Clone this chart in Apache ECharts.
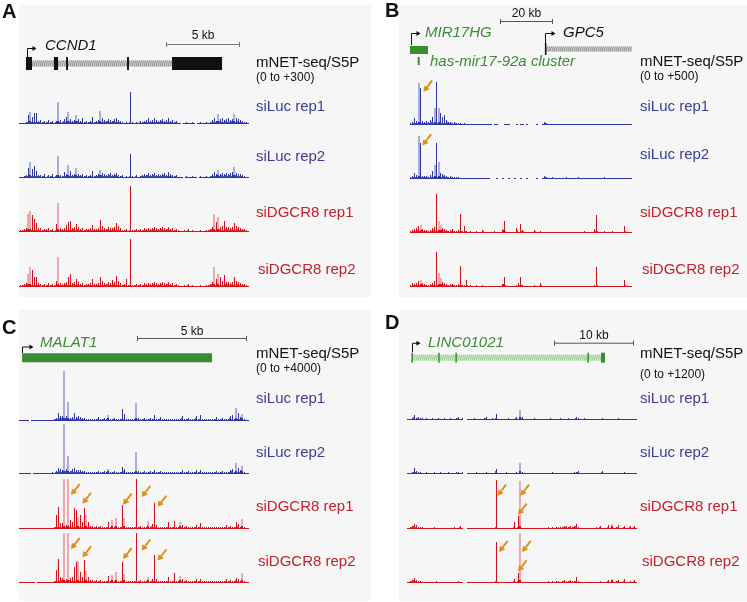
<!DOCTYPE html>
<html><head><meta charset="utf-8">
<script src="https://cdn.jsdelivr.net/npm/echarts@6.0.0/dist/echarts.min.js"></script>
<style>html,body{margin:0;padding:0;background:#fff}#c{width:747px;height:602px}</style>
</head><body><div id="c"></div>
<script>
// ---------------- DATA (signal per 2-px genomic bin) ----------------
// Panel A: CCND1, scale 0..300
const A_siLuc_rep1 = [6,6,6,12,54,72,42,66,66,18, 24,12,18,12,24,12,18,6,18,132, 24,12,30,42,72,30,18,24,54,30, 18,36,12,18,12,18,42,12,18,24, 78,36,24,18,30,24,18,30,36,24, 18,12,6,12,6,192,12,6,12,6, 18,12,18,24,36,18,24,36,24,18, 24,30,18,24,36,18,24,12,18,6, 6,0,6,12,6,6,12,6,0,6, 12,6,6,12,6,12,24,36,18,60, 30,36,24,30,36,24,30,60,36,30, 24,18,12,12,6];
const A_siLuc_rep2 = [6,6,12,18,60,96,54,72,42,18, 18,12,24,6,18,12,24,6,18,130, 18,12,36,24,78,42,18,24,60,24, 18,24,12,18,12,18,42,12,18,24, 48,30,24,18,24,30,18,24,30,18, 12,18,6,12,6,146,12,6,18,6, 12,18,24,18,30,18,24,30,18,24, 18,24,30,18,36,24,18,12,18,6, 6,6,0,12,6,6,12,6,6,0, 12,6,6,12,6,12,24,36,24,48, 24,30,24,30,24,30,36,66,30,24, 24,18,12,6,6];
const A_siDGCR8_rep1 = [12,12,18,24,108,124,104,78,54,24, 24,12,18,18,24,12,18,6,48,174, 24,18,24,42,60,66,24,30,48,30, 18,24,12,18,18,24,42,18,18,24, 72,36,24,18,30,24,24,30,54,36, 24,12,12,18,6,276,12,12,18,12, 18,12,24,18,24,18,24,30,24,18, 24,30,24,18,30,18,24,12,18,12, 6,6,12,6,18,6,12,6,6,6, 12,6,6,12,12,18,30,110,60,90, 30,36,66,30,30,24,30,54,36,30, 24,18,18,12,6];
const A_siDGCR8_rep2 = [12,12,18,24,78,120,104,60,60,24, 18,12,18,12,24,12,18,12,36,180, 24,18,24,30,60,78,24,30,48,30, 18,24,12,18,18,24,48,18,18,24, 60,36,24,18,30,24,42,30,66,36, 24,12,18,48,12,290,12,12,18,12, 18,12,24,18,24,18,24,30,24,18, 24,30,24,18,30,18,24,12,18,12, 6,6,12,6,18,6,12,6,6,6, 12,6,6,12,12,18,30,120,48,78, 60,36,72,30,30,24,30,60,36,30, 24,18,18,12,6];
const A_lightLuc = [5,19,24,28,40,99,107];
const A_lightDgcr = [4,5,19,97,99];
// Panel B: MIR17HG / GPC5, scale 0..500
const B_siLuc_rep1 = [20,30,70,40,420,370,40,30,40,30, 50,80,170,430,170,120,80,100,50,30, 30,20,30,20,20,20,10,20,10,10, 10,10,10,10,10,10,10,10,10,10, 10,0,10,10,0,0,0,10,10,10, 0,0,0,10,0,10,10,0,10,0, 0,0,0,10,0,0,10,30,20,10, 10,10,10,10,10,10,10,10,10,10, 10,10,10,10,10,10,10,10,10,10, 10,10,10,10,10,10,10,10,10,10, 10,10,10,10,10,10,10,10,10,10,10];
const B_siLuc_rep2 = [20,30,60,40,430,360,30,30,30,20, 40,80,140,360,170,60,50,40,30,20, 30,20,20,20,20,10,10,10,10,10, 10,10,10,10,10,10,10,10,10,10, 0,0,0,10,0,0,10,0,0,10, 0,0,10,0,0,10,0,0,10,0, 0,0,0,10,0,0,10,30,20,10, 10,20,10,10,10,10,10,10,20,10, 10,10,10,10,20,10,10,10,10,10, 10,10,10,10,10,10,10,20,10,10, 10,10,10,10,10,10,10,10,10,10,10];
const B_siDGCR8_rep1 = [20,30,40,50,70,80,40,30,30,20, 30,50,60,390,120,80,50,40,30,20, 30,40,20,20,30,190,20,70,20,10, 20,10,10,20,10,10,30,10,10,10, 10,10,20,10,10,10,40,120,10,10, 10,10,10,50,10,90,30,10,10,10, 10,10,30,10,10,20,10,10,10,10, 10,10,10,10,10,10,10,10,10,10, 10,10,10,10,10,10,10,20,10,10, 10,10,40,180,10,10,10,20,10,10, 10,20,10,10,10,10,10,70,10,10,10];
const B_siDGCR8_rep2 = [20,40,30,40,60,70,40,30,20,20, 30,40,60,350,140,90,50,40,30,20, 30,30,20,20,30,210,20,20,70,10, 20,10,10,20,10,10,20,10,10,10, 10,10,10,10,10,10,30,100,10,10, 10,10,10,20,40,100,20,10,10,10, 10,10,20,10,10,40,10,10,10,10, 10,10,10,10,10,10,10,10,10,10, 10,10,10,10,10,10,10,10,10,10, 10,10,20,200,10,10,10,10,10,10, 10,10,10,10,10,10,10,70,10,10,10];
const B_lightLuc = [4,12,14];
const B_lightDgcr = [5,14,15,46];
// Panel C: MALAT1, scale 0..4000
const C_siLuc_rep1 = [40,40,40,40,40,0,40,40,40,40, 80,40,80,40,80,80,80,120,240,640, 400,400,4000,400,1520,240,320,640,320,400, 320,240,240,160,160,160,160,160,160,320, 160,160,240,160,480,160,160,240,160,160, 160,960,560,160,160,160,160,160,1470,240, 160,160,240,160,160,240,160,480,160,160, 320,160,160,160,160,160,160,160,160,160, 160,400,160,160,240,160,160,160,400,160, 480,160,160,160,160,160,160,160,320,160, 160,240,160,160,160,400,480,160,1040,640, 320,560,160,80,80];
const C_siLuc_rep2 = [40,40,40,40,40,40,0,40,40,40, 40,80,40,80,80,80,120,80,240,480, 400,320,4000,400,1470,240,400,480,320,320, 320,240,240,160,160,160,160,160,160,240, 160,160,240,160,400,160,160,240,160,160, 160,560,400,160,160,160,160,160,1730,240, 160,160,240,160,160,240,160,320,160,160, 240,160,160,160,160,160,160,160,160,160, 160,280,160,160,240,160,160,160,320,160, 320,160,160,160,160,160,160,160,240,160, 160,240,160,160,160,320,400,160,880,480, 320,640,160,80,80];
const C_siDGCR8_rep1 = [40,40,80,40,40,40,80,40,40,40, 40,80,40,80,80,40,80,120,1150,1760, 480,480,4000,320,4000,720,560,1680,1520,960, 1120,560,1680,1120,560,240,240,160,240,160, 240,160,160,160,560,160,720,160,880,160, 160,1950,880,160,160,160,160,160,4000,160, 240,160,160,160,640,160,400,2080,320,160, 160,160,160,160,560,160,160,640,160,160, 560,320,160,240,160,160,160,160,320,160, 480,160,160,160,160,160,160,160,160,160, 160,160,160,320,160,240,160,160,560,400, 160,800,160,80,40];
const C_siDGCR8_rep2 = [40,40,40,80,40,40,40,40,0,40, 40,40,80,40,80,40,80,120,1040,1920, 480,400,4000,320,4000,400,480,1250,1700,1760, 900,480,1840,960,480,240,240,160,240,160, 240,160,160,160,560,160,640,160,880,160, 160,1650,720,160,160,160,160,160,4000,160, 240,160,160,160,480,160,320,2250,320,160, 160,160,160,160,480,160,160,800,160,160, 560,320,160,240,160,160,160,160,320,160, 320,160,160,160,160,160,160,160,160,160, 160,160,160,320,160,240,160,160,400,320, 160,800,160,80,40];
const C_lightLuc = [22,24,44,58,108,111];
const C_lightDgcr = [22,24,29,33,46,48,52,64,80,111];
// Panel D: LINC01021, scale 0..1200
const D_siLuc_rep1 = [24,24,48,120,48,72,48,48,24,48, 24,24,48,24,24,48,24,24,48,24, 24,48,24,24,48,72,24,48,0,0, 24,24,24,48,24,24,24,24,48,72, 24,24,48,24,144,24,24,24,24,24, 48,24,24,24,72,24,240,72,24,24, 24,24,24,48,24,24,24,24,24,24, 24,48,24,24,24,24,48,24,24,24, 48,24,24,24,72,48,24,24,48,24, 24,24,24,24,24,24,24,48,24,24, 24,24,24,24,24,48,24,24,24,24, 24,24,24,24,24];
const D_siLuc_rep2 = [24,24,48,144,72,48,48,24,24,48, 24,24,24,48,24,24,48,24,24,24, 48,24,24,24,48,48,24,48,0,0, 24,24,24,24,48,24,24,24,24,48, 24,24,24,24,120,24,24,24,24,48, 24,24,24,24,48,24,270,48,24,24, 24,24,24,24,24,24,24,24,24,24, 24,24,48,24,24,24,24,24,24,24, 24,24,24,48,48,72,24,24,24,24, 24,24,24,24,24,24,24,72,24,24, 24,24,24,24,24,24,24,24,48,24, 24,24,24,24,24];
const D_siDGCR8_rep1 = [24,48,72,120,96,48,48,48,24,24, 24,24,24,48,24,24,24,24,24,24, 24,24,24,48,24,24,72,24,0,0, 24,24,24,24,24,24,24,24,24,24, 24,24,24,24,1180,24,24,24,24,24, 24,24,24,170,24,320,1160,24,24,24, 24,24,24,24,24,24,24,24,24,24, 48,24,48,24,48,48,48,48,72,72, 48,72,48,72,120,48,24,24,24,24, 24,24,24,24,48,24,72,24,24,24, 96,24,120,24,48,96,24,24,72,24, 24,72,24,72,24];
const D_siDGCR8_rep2 = [24,48,72,120,72,48,48,24,24,24, 24,24,24,24,48,24,24,24,24,24, 24,24,24,24,24,48,24,24,0,0, 24,24,24,24,24,24,24,24,24,24, 24,24,24,24,980,24,24,24,24,24, 24,24,24,96,24,250,1200,24,24,24, 24,24,24,24,24,24,24,24,24,24, 48,24,48,24,48,48,24,48,72,48, 48,72,48,48,144,48,24,24,24,24, 24,24,24,24,24,24,48,24,24,24, 72,24,96,24,48,72,24,24,96,24, 24,48,24,72,24];
const D_lightLuc = [56];
const D_lightDgcr = [56,102];

// Arrow annotations: [bin, signal at arrow tip]
const B_arrows_rep1 = [[6.7,333]];
const B_arrows_rep2 = [[6.2,336]];
const C_arrows_rep1 = [[26,2720],[31.7,2020],[52,1950],[61.3,2560],[69.3,1780]];
const C_arrows_rep2 = [[26,2720],[31.7,2056],[52,1920],[61.3,2592],[69.3,1792]];
const D_arrows_rep1 = [[45.2,800],[56.7,800],[55.5,343]];
const D_arrows_rep2 = [[46,744],[57.5,744],[55.5,280]];

// Gene models (kb from left edge of view)
const A_exons = [[0.47,0.88],[2.36,2.64],[3.18,3.31],[7.30,7.43],[10.34,13.72]];
const A_introns = [[0.88,10.34]];
const A_tss = [0.55];
const A_scalebar = [[9.93,14.93]];
const B_mir17hg = [[0.0,6.8]];
const B_cluster = [[2.9,3.6]];
const B_gpc5_exon = [[50.9,51.3]];
const B_gpc5_intron = [[51.3,83.77]];
const B_tss_mir = [0.4];
const B_tss_gpc5 = [50.9];
const B_scalebar = [[34.0,54.0]];
const C_malat1 = [[0.14,8.77]];
const C_tss = [0.14];
const C_scalebar = [[5.36,10.36]];
const D_exons = [[0.55,0.75],[3.9,4.05],[6.05,6.2],[22.55,22.7],[24.25,24.75]];
const D_introns = [[0.625,24.5]];
const D_tss = [0.625];
const D_scalebar = [[18.375,28.375]];

const TRACK_NAMES = ['siLuc rep1','siLuc rep2','siDGCR8 rep1','siDGCR8 rep2'];

// ---------------- RENDERING ----------------
const FONT = '"Liberation Sans", Arial, sans-serif';
const BLUE_D = '#2b36a3', BLUE_M = '#5860b4', BLUE_L = '#a9add9', BLUE_T = '#3a3d96';
const RED_D = '#d0121b', RED_M = '#d9474e', RED_L = '#eda9ac', RED_T = '#c4212a';
const GREEN = '#3b8c33', GREEN_L = '#93c98a', ORANGE = '#e08d1e';

const panels = [
  {id:'A', bg:[19,5,352,292], letter:[2,12], left:19, n:115, max:300, span:15.54, scaleTxt:'(0 to +300)',
   base:[124,178,232,287], labX:[256,256,256,258], labY:[107.3,157.3,213,270], mnetY:[63,77.3],
   tracks:[A_siLuc_rep1,A_siLuc_rep2,A_siDGCR8_rep1,A_siDGCR8_rep2], light:[A_lightLuc,A_lightDgcr], arrows:[null,null,null,null]},
  {id:'B', bg:[399,5,348,292], letter:[385,11], left:410, n:111, max:500, span:83.77, scaleTxt:'(0 to +500)',
   base:[125,179,233,287], labX:[640,640,640,642], labY:[107.3,155,213.3,270], mnetY:[62,76.7],
   tracks:[B_siLuc_rep1,B_siLuc_rep2,B_siDGCR8_rep1,B_siDGCR8_rep2], light:[B_lightLuc,B_lightDgcr], arrows:[B_arrows_rep1,B_arrows_rep2,null,null]},
  {id:'C', bg:[19,310,352,291], letter:[2,328], left:19, n:115, max:4000, span:10.45, scaleTxt:'(0 to +4000)',
   base:[421,474,529,583], labX:[256,256,256,258], labY:[399.3,453.3,507.3,561.7], mnetY:[354,368.3],
   tracks:[C_siLuc_rep1,C_siLuc_rep2,C_siDGCR8_rep1,C_siDGCR8_rep2], light:[C_lightLuc,C_lightDgcr], arrows:[null,null,C_arrows_rep1,C_arrows_rep2]},
  {id:'D', bg:[399,310,348,291], letter:[385,323], left:407, n:115, max:1200, span:28.75, scaleTxt:'(0 to +1200)',
   base:[420,474,529,583], labX:[640,640,640,642], labY:[399.3,453.3,507.3,561.7], mnetY:[354.3,375],
   tracks:[D_siLuc_rep1,D_siLuc_rep2,D_siDGCR8_rep1,D_siDGCR8_rep2], light:[D_lightLuc,D_lightDgcr], arrows:[null,null,D_arrows_rep1,D_arrows_rep2]}
];

const grids=[], xAxes=[], yAxes=[], series=[], graphics=[];
function addGrid(left, top, width, height, xmax, ymax){
  grids.push({left:left, top:top, width:width, height:height, containLabel:false, outerBoundsMode:'none', show:false});
  const idx = grids.length-1;
  xAxes.push({type:'value', gridIndex:idx, min:0, max:xmax, show:false});
  yAxes.push({type:'value', gridIndex:idx, min:0, max:ymax, show:false});
  return idx;
}
function txt(x, y, text, size, color, opts){
  opts = opts || {};
  graphics.push({type:'text', x:x, y:y, z:10, silent:true, style:{text:text, fill:color,
    font:(opts.italic?'italic ':'')+(opts.bold?'bold ':'')+size+'px '+FONT,
    textAlign:opts.align||'left', textVerticalAlign:'middle', align:opts.align||'left', verticalAlign:'middle'}});
}
function trackRender(lightSet, dark, mid, light){
  return function(params, api){
    const i = api.value(0), v = api.value(1);
    if (!(v > 0)) return null;
    const p0 = api.coord([i, 0]), p1 = api.coord([i, v]);
    const cs = params.coordSys;
    const x = Math.floor(p0[0]);
    const xd = (x % 2 === 0) ? x : x + 1;     // dark 1-px stroke column
    const xm = (x % 2 === 0) ? x + 1 : x;     // companion column
    const yb = Math.round(p0[1]);
    const top = Math.max(p1[1], cs.y);
    const h = Math.max(Math.round(yb - top), 1);
    const kids = [];
    if (lightSet.indexOf(i) >= 0) {
      kids.push({type:'rect', shape:{x:x, y:yb-h, width:2, height:h}, style:{fill:light}});
      const hb = Math.min(h, 3);
      kids.push({type:'rect', shape:{x:x, y:yb-hb, width:2, height:hb}, style:{fill:dark}});
    } else if (h <= 5) {
      kids.push({type:'rect', shape:{x:xd, y:yb-h, width:1, height:h}, style:{fill:dark}});
      kids.push({type:'rect', shape:{x:xm, y:yb-Math.ceil(h/2), width:1, height:Math.ceil(h/2)}, style:{fill:mid}});
    } else {
      kids.push({type:'rect', shape:{x:xd, y:yb-h, width:1, height:h}, style:{fill:dark}});
      kids.push({type:'rect', shape:{x:xm, y:yb-2, width:1, height:2}, style:{fill:mid}});
    }
    kids.push({type:'rect', shape:{x:x, y:yb-1, width:2, height:1}, style:{fill:dark}});
    return {type:'group', children:kids};
  };
}
const ARROW = 'path://M8.1,-0.6L9.9,0.6L4.6,7.6L6.4,9.4L0,12L1,5.2L2.9,6.7Z';

// gene renderers
function rExon(yc, h, color, minW){
  return function(params, api){
    const a = api.coord([api.value(0),0])[0], b = api.coord([api.value(1),0])[0];
    return {type:'rect', shape:{x:a, y:yc-h/2, width:Math.max(b-a, minW||1.5), height:h}, style:{fill:color}};
  };
}
function rHatch(yc, h, color){
  return function(params, api){
    const a = api.coord([api.value(0),0])[0], b = api.coord([api.value(1),0])[0];
    const kids = [{type:'rect', shape:{x:a, y:yc-h/2, width:b-a, height:h}, style:{fill:color, opacity:0.35}}];
    for (let x = a; x < b - 1; x += 2) {
      kids.push({type:'line', shape:{x1:x, y1:yc+h/2, x2:x+1.6, y2:yc-h/2}, style:{stroke:color, lineWidth:0.9}});
    }
    return {type:'group', children:kids};
  };
}
function rTss(yBot, yTop, len, color){
  return function(params, api){
    const x = Math.round(api.coord([api.value(0),0])[0]) + 0.5;
    return {type:'group', children:[
      {type:'polyline', shape:{points:[[x,yBot],[x,yTop],[x+len-3,yTop]]}, style:{stroke:color, lineWidth:1, fill:null}},
      {type:'polygon', shape:{points:[[x+len-4,yTop-2.5],[x+len,yTop],[x+len-4,yTop+2.5]]}, style:{fill:color}}
    ]};
  };
}
function rScale(y, textY, label, color){
  return function(params, api){
    const a = Math.round(api.coord([api.value(0),0])[0]), b = Math.round(api.coord([api.value(1),0])[0]);
    return {type:'group', children:[
      {type:'line', shape:{x1:a, y1:y+0.5, x2:b, y2:y+0.5}, style:{stroke:color, lineWidth:1}},
      {type:'line', shape:{x1:a+0.5, y1:y-2, x2:a+0.5, y2:y+3}, style:{stroke:color, lineWidth:1}},
      {type:'line', shape:{x1:b-0.5, y1:y-2, x2:b-0.5, y2:y+3}, style:{stroke:color, lineWidth:1}},
      {type:'text', style:{text:label, x:(a+b)/2, y:textY, fill:'#111', font:'12px '+FONT, align:'center', verticalAlign:'middle', textAlign:'center', textVerticalAlign:'middle'}}
    ]};
  };
}
function geneSeries(g, rows, render, z){
  series.push({type:'custom', coordinateSystem:'cartesian2d', xAxisIndex:g, yAxisIndex:g, silent:true, animation:false, z:z||3,
    data: rows.map(function(r){ return Array.isArray(r) ? [r[0], r[1], 0] : [r, r, 0]; }),
    encode:{x:[0,1], y:2}, renderItem:render});
}

panels.forEach(function(p){
  graphics.push({type:'rect', z:-10, silent:true, shape:{x:p.bg[0], y:p.bg[1], width:p.bg[2], height:p.bg[3]}, style:{fill:'#f6f6f6'}});
  txt(p.letter[0], p.letter[1], p.id, 20, '#111', {bold:true});
  txt(p.labX[0], p.mnetY[0], 'mNET-seq/S5P', 15, '#111');
  txt(p.labX[0], p.mnetY[1], p.scaleTxt, 12, '#111');
  p.tracks.forEach(function(vals, k){
    const isLuc = k < 2;
    const g = addGrid(p.left, p.base[k]-50, p.n*2, 50, p.n, p.max);
    series.push({type:'custom', coordinateSystem:'cartesian2d', xAxisIndex:g, yAxisIndex:g, silent:true, animation:false,
      data: vals.map(function(v,i){ return [i, Math.min(v, p.max)]; }), encode:{x:0, y:1},
      renderItem: trackRender(isLuc ? p.light[0] : p.light[1], isLuc ? BLUE_D : RED_D, isLuc ? BLUE_M : RED_M, isLuc ? BLUE_L : RED_L)});
    if (p.arrows[k]) {
      series.push({type:'scatter', xAxisIndex:g, yAxisIndex:g, silent:true, animation:false, z:5, clip:false,
        symbol:ARROW, symbolSize:[9.5,11.6], symbolOffset:[4.75,-5.8], itemStyle:{color:ORANGE, opacity:1},
        data:p.arrows[k]});
    }
    txt(p.labX[k], p.labY[k], TRACK_NAMES[k], 15, isLuc ? BLUE_T : RED_T);
  });
});

// gene-model grids (kb axis)
const gA = addGrid(19, 0, 230, 10, 15.54, 1);
geneSeries(gA, A_introns, rHatch(63.5, 6, '#8c8c8c'));
geneSeries(gA, A_exons, rExon(63.5, 13, '#111'), 4);
geneSeries(gA, A_tss, rTss(57, 48.5, 9, '#111'));
geneSeries(gA, A_scalebar, rScale(44, 35.7, '5 kb', '#777'));
txt(45, 46, 'CCND1', 15, '#111', {italic:true});

const gB = addGrid(410, 0, 222, 10, 83.77, 1);
geneSeries(gB, B_mir17hg, rExon(50, 8, GREEN));
geneSeries(gB, B_cluster, rExon(61, 8, GREEN, 2));
geneSeries(gB, B_gpc5_intron, rHatch(49, 5, '#8c8c8c'));
geneSeries(gB, B_gpc5_exon, rExon(49, 12, '#111', 1.5), 4);
geneSeries(gB, B_tss_mir, rTss(45, 33.5, 9, '#111'));
geneSeries(gB, B_tss_gpc5, rTss(43, 33.5, 10, '#111'));
geneSeries(gB, B_scalebar, rScale(21, 13.3, '20 kb', '#555'));
txt(425, 33, 'MIR17HG', 15, GREEN, {italic:true});
txt(563, 33, 'GPC5', 15, '#111', {italic:true});
txt(430, 62, 'has-mir17-92a cluster', 15, GREEN, {italic:true});

const gC = addGrid(19, 0, 230, 10, 10.45, 1);
geneSeries(gC, C_malat1, rExon(357.8, 9, GREEN));
geneSeries(gC, C_tss, rTss(353, 347, 11, '#111'));
geneSeries(gC, C_scalebar, rScale(338, 332, '5 kb', '#555'));
txt(40, 343, 'MALAT1', 15, GREEN, {italic:true});

const gD = addGrid(407, 0, 230, 10, 28.75, 1);
geneSeries(gD, D_introns, rHatch(357.7, 6, GREEN_L));
geneSeries(gD, D_exons, rExon(357.7, 10, GREEN, 1.5), 4);
geneSeries(gD, D_tss, rTss(352, 343.3, 8, '#111'));
geneSeries(gD, D_scalebar, rScale(342.7, 335.7, '10 kb', '#555'));
txt(428, 342.7, 'LINC01021', 15, GREEN, {italic:true});

const chart = echarts.init(document.getElementById('c'), null, {renderer:'canvas', width:747, height:602});
chart.setOption({animation:false, backgroundColor:'#ffffff', grid:grids, xAxis:xAxes, yAxis:yAxes, series:series, graphic:{elements:graphics}});
</script></body></html>
